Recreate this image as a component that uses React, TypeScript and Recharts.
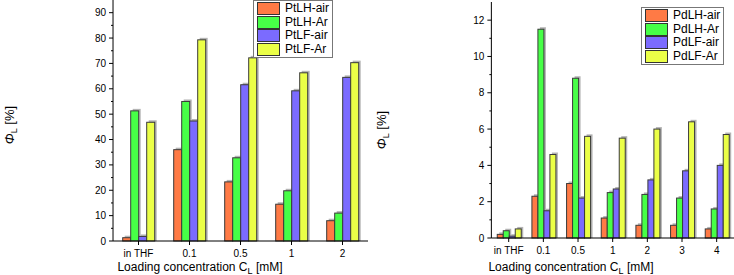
import React from 'react';
import { BarChart, Bar, XAxis, YAxis, Legend } from 'recharts';

const ptCategories = ['in THF', '0.1', '0.5', '1', '2'];
const ptSeries = ['PtLH-air', 'PtLH-Ar', 'PtLF-air', 'PtLF-Ar'];
const ptLHAir = [1.3, 36, 23.3, 14.5, 8];
const ptLHAr = [51.3, 55, 32.8, 19.8, 11];
const ptLFAir = [1.8, 47.3, 61.6, 59.2, 64.5];
const ptLFAr = [46.8, 79.3, 72.2, 66.3, 70.3];
const ptTicks = [0, 5, 10, 15, 20, 25, 30, 35, 40, 45, 50, 55, 60, 65, 70, 75, 80, 85, 90];

const pdCategories = ['in THF', '0.1', '0.5', '1', '2', '3', '4'];
const pdSeries = ['PdLH-air', 'PdLH-Ar', 'PdLF-air', 'PdLF-Ar'];
const pdLHAir = [0.2, 2.3, 3.0, 1.1, 0.7, 0.7, 0.5];
const pdLHAr = [0.4, 11.5, 8.8, 2.5, 2.4, 2.2, 1.6];
const pdLFAir = [0.1, 1.5, 2.2, 2.7, 3.2, 3.7, 4.0];
const pdLFAr = [0.5, 4.6, 5.6, 5.5, 6.0, 6.4, 5.7];
const pdTicks = [0, 1, 2, 3, 4, 5, 6, 7, 8, 9, 10, 11, 12];

const colors = ['#FF7A45', '#47FF47', '#7B6BFF', '#EBFF47'];
const font = '"Liberation Sans", Arial, sans-serif';

const ptData = ptCategories.map((c, i) => ({
  cat: c,
  [ptSeries[0]]: ptLHAir[i],
  [ptSeries[1]]: ptLHAr[i],
  [ptSeries[2]]: ptLFAir[i],
  [ptSeries[3]]: ptLFAr[i],
}));

const pdData = pdCategories.map((c, i) => ({
  cat: c,
  [pdSeries[0]]: pdLHAir[i],
  [pdSeries[1]]: pdLHAr[i],
  [pdSeries[2]]: pdLFAir[i],
  [pdSeries[3]]: pdLFAr[i],
}));

// bar with a grey drop shadow up and to the right
const ShadowBar = (props: any) => {
  const { x, y, width, height, fill } = props;
  if (!height || height <= 0) return null;
  return (
    <g>
      <rect x={x + 2} y={y - 2} width={width} height={height + 2} fill="#b4b4b4" />
      <rect x={x} y={y} width={width} height={height} fill={fill} stroke="#3a3a3a" strokeWidth={1} />
    </g>
  );
};

// y tick: labels only on majors, shorter marks for minors
const makeYTick = (step: number) => (props: any) => {
  const { x, y, payload } = props;
  const major = payload.value % step === 0;
  const axisX = x + 6;
  return (
    <g>
      <line x1={axisX} x2={axisX - (major ? 4 : 2)} y1={y} y2={y} stroke="#000" />
      {major && (
        <text x={x - 1} y={y} dy={3.5} textAnchor="end" fontSize={10} fontFamily={font} fill="#000">
          {payload.value}
        </text>
      )}
    </g>
  );
};

const YTitle = (props: any) => {
  const { cx, cy } = props;
  return (
    <text transform={`translate(${cx},${cy}) rotate(-90)`} textAnchor="middle" fontSize={13} fontFamily={font} fill="#000">
      <tspan fontStyle="italic">Φ</tspan>
      <tspan fontSize={9} dy={3}>L</tspan>
      <tspan dy={-3}> [%]</tspan>
    </text>
  );
};

const XTitle = (props: any) => {
  const { cx, y } = props;
  return (
    <text x={cx} y={y} textAnchor="middle" fontSize={12} fontFamily={font} fill="#000">
      <tspan>Loading concentration C</tspan>
      <tspan fontSize={9} dy={3}>L</tspan>
      <tspan dy={-3}> [mM]</tspan>
    </text>
  );
};

const LegendBox = (props: any) => {
  const { names } = props;
  return (
    <div
      style={{
        border: '1px solid #777',
        background: '#fff',
        padding: '1px 3px 1px 3px',
        fontFamily: font,
        fontSize: 12,
        lineHeight: '13.5px',
      }}
    >
      {names.map((n: string, i: number) => (
        <div key={n} style={{ display: 'flex', alignItems: 'center' }}>
          <span
            style={{
              display: 'inline-block',
              width: 21,
              height: 11,
              background: colors[i],
              border: '1px solid #333',
              marginRight: 5,
            }}
          />
          <span>{n}</span>
        </div>
      ))}
    </div>
  );
};

const App = () => {
  return (
    <div style={{ position: 'absolute', left: 0, top: 0, width: 734, height: 275, background: '#fff' }}>
      <div style={{ position: 'absolute', left: 0, top: 0 }}>
        <BarChart width={370} height={275} data={ptData} margin={{ top: 0, right: 2, left: 0, bottom: 0 }} barCategoryGap="19%" barGap={0}>
          <XAxis dataKey="cat" height={34} stroke="#000" tickSize={4} tickMargin={5} tick={{ fontSize: 10, fontFamily: font, fill: '#000' }} />
          <YAxis
            width={33}
            domain={[0, 95]}
            ticks={ptTicks}
            interval={0}
            stroke="#000"
            tickLine={false}
            tickSize={4}
            tickMargin={2}
            tick={makeYTick(10)}
          />
          <Legend
            layout="vertical"
            verticalAlign="top"
            align="left"
            wrapperStyle={{ left: 253, top: 0, width: 'auto' }}
            content={<LegendBox names={ptSeries} />}
          />
          {ptSeries.map((k, i) => (
            <Bar key={k} dataKey={k} fill={colors[i]} shape={<ShadowBar />} isAnimationActive={false} />
          ))}
        </BarChart>
        <svg style={{ position: 'absolute', left: 0, top: 0, pointerEvents: 'none' }} width={370} height={275}>
          <YTitle cx={14} cy={125} />
          <XTitle cx={200} y={271} />
        </svg>
      </div>
      <div style={{ position: 'absolute', left: 370, top: 0 }}>
        <BarChart width={364} height={275} data={pdData} margin={{ top: 2, right: 0, left: 0, bottom: 0 }} barCategoryGap="17%" barGap={0}>
          <XAxis dataKey="cat" height={37} stroke="#000" tickSize={4} tickMargin={5} tick={{ fontSize: 10, fontFamily: font, fill: '#000' }} />
          <YAxis
            width={38}
            domain={[0, 13]}
            ticks={pdTicks}
            interval={0}
            stroke="#000"
            tickLine={false}
            tickSize={4}
            tickMargin={2}
            tick={makeYTick(2)}
          />
          <Legend
            layout="vertical"
            verticalAlign="top"
            align="left"
            wrapperStyle={{ left: 271, top: 7, width: 'auto' }}
            content={<LegendBox names={pdSeries} />}
          />
          {pdSeries.map((k, i) => (
            <Bar key={k} dataKey={k} fill={colors[i]} shape={<ShadowBar />} isAnimationActive={false} />
          ))}
        </BarChart>
        <svg style={{ position: 'absolute', left: 0, top: 0, pointerEvents: 'none' }} width={364} height={275}>
          <YTitle cx={16} cy={130} />
          <XTitle cx={201} y={271} />
        </svg>
      </div>
    </div>
  );
};

export default App;
